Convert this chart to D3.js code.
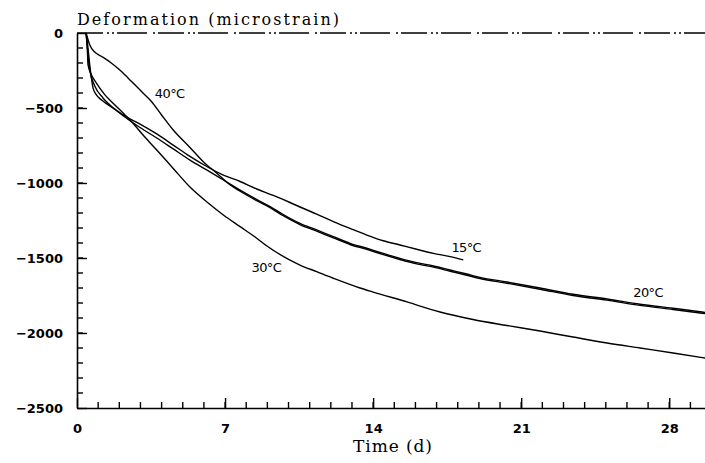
<!DOCTYPE html>
<html>
<head>
<meta charset="utf-8">
<script src="https://cdn.jsdelivr.net/npm/d3@7"></script>
<style>
  html, body { margin: 0; padding: 0; background: #fff; }
  svg { display: block; }
</style>
</head>
<body>
<div id="chart"></div>
<script>
// values: time in days, deformation in microstrain
const days15 = [0.43, 0.52, 0.60, 0.68, 0.76, 0.91, 1.15, 1.62, 2.09, 2.57, 2.98, 3.77, 4.55, 5.34, 6.13, 6.92,
  7.71, 8.50, 9.28, 10.07, 10.54, 11.33, 12.12, 12.91, 13.70, 14.48, 15.27, 16.06, 16.85, 17.64, 18.26];
const strain15 = [0, -100, -210, -300, -367, -411, -445, -493, -537, -577, -607, -673, -747, -823, -890, -947,
  -990, -1040, -1083, -1130, -1160, -1207, -1257, -1303, -1347, -1385, -1413, -1442, -1469, -1491, -1513];

const days20 = [0.43, 0.50, 0.60, 0.84, 1.23, 1.78, 2.26, 2.98, 3.77, 4.55, 5.34, 6.13, 6.92, 7.71, 8.50, 9.13,
  9.75, 10.54, 11.33, 12.12, 12.91, 13.70, 14.48, 15.27, 16.06, 16.85, 17.64, 18.43, 19.05, 20.33, 21.89,
  23.45, 25.06, 26.62, 28.18, 29.69];
const strain20 = [0, -113, -245, -353, -433, -507, -560, -630, -700, -773, -847, -913, -980, -1047, -1110, -1157,
  -1210, -1269, -1313, -1358, -1402, -1435, -1469, -1502, -1531, -1553, -1580, -1607, -1629, -1660, -1700,
  -1742, -1773, -1808, -1835, -1863];

const days30 = [0.43, 0.49, 0.52, 0.68, 0.91, 1.31, 1.78, 2.26, 2.73, 3.04, 3.77, 4.55, 5.34, 6.13, 6.92, 7.71,
  8.42, 8.98, 10.54, 11.33, 12.12, 13.38, 14.00, 15.60, 17.16, 18.72, 20.33, 21.89, 23.45, 25.06, 26.62,
  28.18, 29.69];
const strain30 = [0, -113, -211, -278, -333, -411, -478, -545, -615, -667, -780, -903, -1027, -1125, -1213, -1291,
  -1360, -1420, -1547, -1591, -1635, -1700, -1727, -1793, -1860, -1910, -1950, -1987, -2027, -2067, -2100,
  -2133, -2167];

const days40 = [0.43, 0.60, 0.84, 1.15, 1.62, 2.09, 2.57, 3.04, 3.51, 3.99, 4.55, 5.34, 5.97, 6.61, 7.23, 7.71,
  8.50, 9.13, 9.75, 10.54, 11.33, 12.12, 12.91, 13.70, 14.48, 15.27, 16.06, 16.85, 17.64, 18.43, 19.05,
  20.33, 21.89, 23.45, 25.06, 26.62, 28.18, 29.69];
const strain40 = [0, -78, -127, -155, -200, -255, -322, -389, -455, -545, -647, -763, -858, -935, -1012, -1055,
  -1118, -1165, -1218, -1277, -1321, -1366, -1410, -1443, -1477, -1510, -1539, -1561, -1588, -1615, -1637,
  -1668, -1708, -1750, -1781, -1816, -1843, -1871];

const tempLabels = ['15°C', '20°C', '30°C', '40°C'];
const xTickValues = [0, 7, 14, 21, 28];
const yTickValues = [0, -500, -1000, -1500, -2000, -2500];
const xMinorTicks = d3.range(1, 30);
const yMinorTicks = d3.range(-2400, 0, 100);
const xTitle = 'Time (d)';
const yTitle = 'Deformation (microstrain)';

const opts = {
  whole: {width: 705, height: 463},
  plot: {left: 77, right: 705, top: 33, bottom: 408},
  xMax: 29.69,
  line: {color: '#000', width: 1.4},
  tick: {major: 10, minor: 6},
  font: {
    tick: {family: '"DejaVu Sans", sans-serif', size: 13, weight: 'bold'},
    label: {family: '"DejaVu Sans", sans-serif', size: 13},
    title: {family: '"DejaVu Serif", serif', size: 16}
  },
  // where each temperature label sits, in data units (day, microstrain)
  labelAt: {'15°C': [17.7, -1460], '20°C': [26.3, -1762], '30°C': [8.25, -1590], '40°C': [3.68, -435]}
};

const series = [
  {name: tempLabels[0], t: days15, v: strain15},
  {name: tempLabels[1], t: days20, v: strain20},
  {name: tempLabels[2], t: days30, v: strain30},
  {name: tempLabels[3], t: days40, v: strain40}
];

const svg = d3.select('#chart').append('svg')
  .attr('width', opts.whole.width)
  .attr('height', opts.whole.height);

const x = d3.scaleLinear().domain([0, opts.xMax]).range([opts.plot.left, opts.plot.right]);
const y = d3.scaleLinear().domain([-2500, 0]).range([opts.plot.bottom, opts.plot.top]);

// minor ticks every day / every 100 microstrain, pointing inwards
svg.append('g').attr('id', 'ticks-h-minor')
  .selectAll('line')
  .data(xMinorTicks)
  .join('line')
    .attr('x1', d => x(d)).attr('x2', d => x(d))
    .attr('y1', y(-2500)).attr('y2', y(-2500) - opts.tick.minor)
    .attr('stroke', '#000').attr('stroke-width', 1.4);
svg.append('g').attr('id', 'ticks-v-minor')
  .selectAll('line')
  .data(yMinorTicks)
  .join('line')
    .attr('x1', x(0)).attr('x2', x(0) + opts.tick.minor)
    .attr('y1', d => y(d)).attr('y2', d => y(d))
    .attr('stroke', '#000').attr('stroke-width', 1.4);

// major ticks and labels
const xAxis = svg.append('g')
  .attr('transform', `translate(0 ${opts.plot.bottom})`)
  .call(d3.axisBottom(x).tickValues(xTickValues).tickSize(-opts.tick.major).tickSizeOuter(0).tickPadding(16));
const yAxis = svg.append('g')
  .attr('transform', `translate(${x(0)} 0)`)
  .call(d3.axisLeft(y).tickValues(yTickValues).tickSize(-opts.tick.major).tickSizeOuter(0).tickPadding(14)
    .tickFormat(d3.format('d')));

[xAxis, yAxis].forEach(g => {
  g.select('.domain').attr('stroke', '#000').attr('stroke-width', 1.6);
  g.selectAll('.tick line').attr('stroke', '#000').attr('stroke-width', 1.4);
  g.selectAll('.tick text')
    .attr('font-family', opts.font.tick.family)
    .attr('font-size', opts.font.tick.size)
    .attr('font-weight', opts.font.tick.weight)
    .attr('fill', '#000');
});

// broken zero line along the top
svg.append('line')
  .attr('x1', x(0)).attr('x2', x(opts.xMax))
  .attr('y1', y(0)).attr('y2', y(0))
  .attr('stroke', '#000')
  .attr('stroke-width', 1.6)
  .attr('stroke-dasharray', '26 4 2 3 2 3 30 6 2 3');

// curves
const line = d3.line()
  .x(d => x(d[0]))
  .y(d => y(d[1]))
  .curve(d3.curveMonotoneX);

svg.append('g').attr('id', 'curves')
  .selectAll('path')
  .data(series)
  .join('path')
    .attr('d', s => line(s.t.map((t, i) => [t, s.v[i]])))
    .attr('fill', 'none')
    .attr('stroke', opts.line.color)
    .attr('stroke-width', opts.line.width)
    .attr('stroke-linejoin', 'round');

svg.append('g').attr('id', 'curve-labels')
  .selectAll('text')
  .data(series)
  .join('text')
    .text(s => s.name)
    .attr('x', s => x(opts.labelAt[s.name][0]))
    .attr('y', s => y(opts.labelAt[s.name][1]))
    .attr('font-family', opts.font.label.family)
    .attr('font-size', opts.font.label.size)
    .attr('letter-spacing', -0.6)
    .attr('fill', '#000');

// axis titles
svg.append('text')
  .text(yTitle)
  .attr('x', x(0))
  .attr('y', 25)
  .attr('font-family', opts.font.title.family)
  .attr('font-size', opts.font.title.size)
  .attr('textLength', 262)
  .attr('lengthAdjust', 'spacing')
  .attr('fill', '#000');

svg.append('text')
  .text(xTitle)
  .attr('x', 353)
  .attr('y', 452)
  .attr('font-family', opts.font.title.family)
  .attr('font-size', 17)
  .attr('textLength', 79)
  .attr('lengthAdjust', 'spacing')
  .attr('fill', '#000');
</script>
</body>
</html>
